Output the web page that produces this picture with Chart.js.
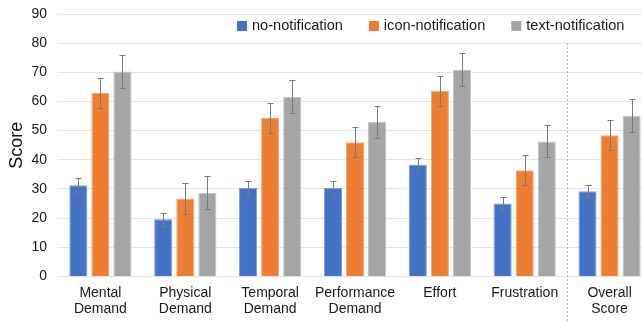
<!DOCTYPE html>
<html>
<head>
<meta charset="utf-8">
<script src="https://cdn.jsdelivr.net/npm/chart.js@4.4.1/dist/chart.umd.min.js"></script>
<style>
  html, body { margin: 0; padding: 0; background: #fff; }
  /* plot continues past the right edge, as in the original figure */
  #wrap { width: 642px; height: 322px; overflow: hidden; }
</style>
</head>
<body>
<div id="wrap"><canvas id="chart" width="652" height="322"></canvas></div>
<script>
const categories = [
    ["Mental", "Demand"],
    ["Physical", "Demand"],
    ["Temporal", "Demand"],
    ["Performance", "Demand"],
    "Effort",
    "Frustration",
    ["Overall", "Score"]
];

// mean scores
const noNotification   = [31.3, 19.6, 30.3, 30.3, 38.3, 25.0, 29.2];
const iconNotification = [62.9, 26.7, 54.3, 46.0, 63.6, 36.4, 48.4];
const textNotification = [70.3, 28.7, 61.6, 53.0, 70.9, 46.3, 55.1];

// error bar half-widths
const noNotificationErr   = [2.3, 2.2, 2.3, 2.3, 2.3, 2.2, 2.1];
const iconNotificationErr = [5.2, 5.2, 5.2, 5.2, 5.2, 5.2, 5.2];
const textNotificationErr = [5.6, 5.6, 5.6, 5.6, 5.6, 5.5, 5.7];

const FONT = 'Liberation Sans, Arial, sans-serif';

const errorBarPlugin = {
    id: 'errorBars',
    afterDatasetsDraw(chart) {
        const ctx = chart.ctx;
        const yScale = chart.scales.y;
        ctx.save();
        ctx.strokeStyle = '#7a7a7a';
        ctx.lineWidth = 1;
        chart.data.datasets.forEach((ds, di) => {
            const meta = chart.getDatasetMeta(di);
            meta.data.forEach((bar, i) => {
                const v = ds.data[i];
                const e = ds.errors[i];
                const x = Math.round(bar.x) + 0.5;
                const yTop = Math.round(yScale.getPixelForValue(v + e)) + 0.5;
                const yBot = Math.round(yScale.getPixelForValue(v - e)) + 0.5;
                ctx.beginPath();
                ctx.moveTo(x, yTop);
                ctx.lineTo(x, yBot);
                ctx.moveTo(x - 3, yTop);
                ctx.lineTo(x + 3, yTop);
                ctx.moveTo(x - 3, yBot);
                ctx.lineTo(x + 3, yBot);
                ctx.stroke();
            });
        });
        ctx.restore();
    }
};

// dashed separator before the overall score group + legend inside the plot
const extrasPlugin = {
    id: 'extras',
    afterDraw(chart) {
        const ctx = chart.ctx;
        const xScale = chart.scales.x;
        const x = Math.round((xScale.getPixelForValue(5) + xScale.getPixelForValue(6)) / 2) + 0.5;
        ctx.save();
        ctx.strokeStyle = '#b5b5b5';
        ctx.lineWidth = 1;
        ctx.setLineDash([2, 2]);
        ctx.beginPath();
        ctx.moveTo(x, chart.scales.y.getPixelForValue(80));
        ctx.lineTo(x, chart.height);
        ctx.stroke();
        ctx.restore();

        // legend
        ctx.save();
        ctx.font = '14.6px ' + FONT;
        ctx.textBaseline = 'middle';
        let lx = 237;
        const ly = 26;
        chart.data.datasets.forEach(ds => {
            ctx.fillStyle = ds.backgroundColor;
            ctx.fillRect(lx, ly - 5, 10, 10);
            ctx.fillStyle = '#1a1a1a';
            ctx.fillText(ds.label, lx + 15, ly);
            lx += 15 + ctx.measureText(ds.label).width + 26;
        });
        ctx.restore();
    }
};

const ctx = document.getElementById('chart').getContext('2d');
new Chart(ctx, {
    type: 'bar',
    data: {
        labels: categories,
        datasets: [
            {
                label: 'no-notification',
                data: noNotification,
                errors: noNotificationErr,
                backgroundColor: '#4472C4',
                borderColor: '#7c9bd6',
                borderWidth: 1
            },
            {
                label: 'icon-notification',
                data: iconNotification,
                errors: iconNotificationErr,
                backgroundColor: '#ED7D31',
                borderColor: '#f4a772',
                borderWidth: 1
            },
            {
                label: 'text-notification',
                data: textNotification,
                errors: textNotificationErr,
                backgroundColor: '#A5A5A5',
                borderColor: '#c3c3c3',
                borderWidth: 1
            }
        ]
    },
    options: {
        responsive: false,
        animation: false,
        devicePixelRatio: 1,
        layout: { autoPadding: false, padding: { left: 6, right: 0, top: 14, bottom: 4 } },
        datasets: {
            bar: { categoryPercentage: 0.78, barPercentage: 0.82 }
        },
        scales: {
            x: {
                grid: { display: false },
                border: { display: false },
                ticks: {
                    autoSkip: false,
                    color: '#1a1a1a',
                    font: { family: FONT, size: 14 },
                    maxRotation: 0,
                    padding: 0
                }
            },
            y: {
                min: 0,
                max: 90,
                grid: { color: '#e4e4e4', drawTicks: false },
                border: { display: false },
                afterFit(scale) {
                    scale.width = 52;
                    scale.paddingTop = 0;
                    scale.paddingBottom = 0;
                },
                ticks: {
                    stepSize: 10,
                    color: '#1a1a1a',
                    padding: 11,
                    font: { family: FONT, size: 14 }
                },
                title: {
                    display: true,
                    text: 'Score',
                    color: '#111',
                    padding: { top: 0, bottom: 0 },
                    font: { family: FONT, size: 18 }
                }
            }
        },
        plugins: {
            legend: { display: false },
            tooltip: { enabled: false }
        }
    },
    plugins: [errorBarPlugin, extrasPlugin]
});
</script>
</body>
</html>
